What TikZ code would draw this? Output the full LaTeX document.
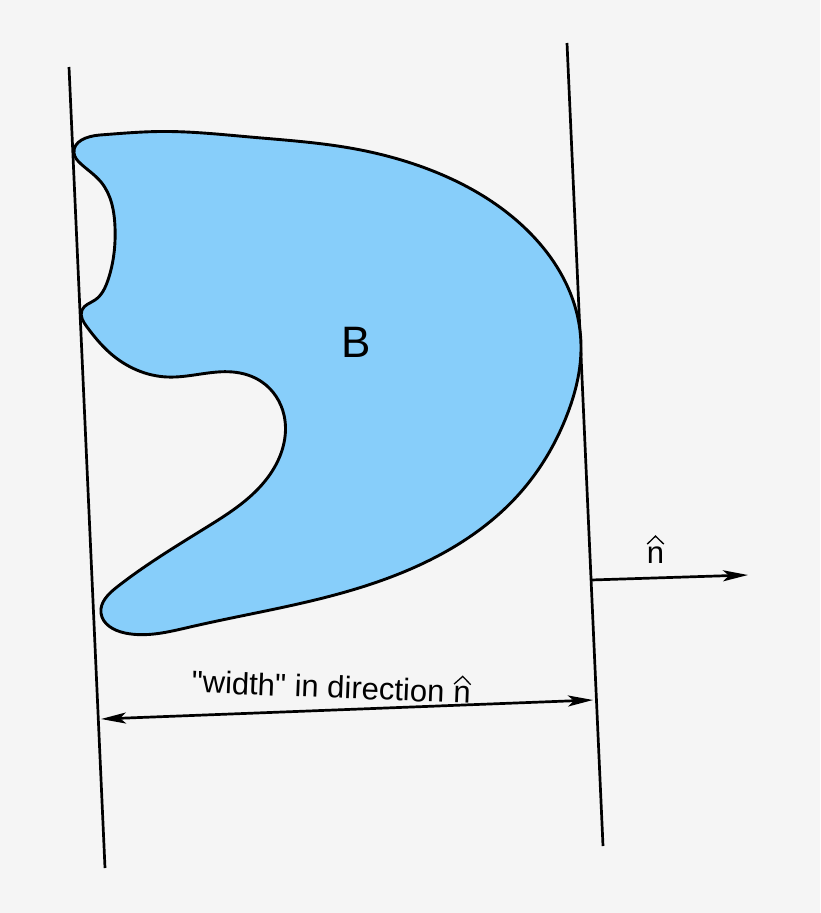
\documentclass[tikz,border=0pt]{standalone}
\usepackage{fontspec}
\setmainfont{Liberation Sans}
\usetikzlibrary{arrows.meta,hobby}
\definecolor{bg}{RGB}{245,245,245}
\definecolor{bodyblue}{RGB}{135,206,250}
\tikzset{
  support/.style={line width=2.7pt},
  outline/.style={line width=2.9pt, fill=bodyblue, draw=black},
  dirarrow/.style={line width=2.7pt, -{Stealth[length=25pt,width=11pt,inset=6pt]}},
  widtharrow/.style={line width=2.7pt, {Stealth[length=25pt,width=11pt,inset=6pt]}-{Stealth[length=25pt,width=11pt,inset=6pt]}},
  lbl/.style={font=\fontsize{31}{36}\selectfont, inner sep=0pt}
}
\newcommand\nhat{\tikz[baseline=(nn.base), x=1pt, y=1pt]{\node[inner sep=0pt, font=\fontsize{31}{36}\selectfont] (nn) {n};
  \draw[line width=1.3pt] ([xshift=0.5pt,yshift=2pt]nn.north west) -- ([yshift=10pt]nn.north) -- ([xshift=-0.5pt,yshift=2pt]nn.north east);}}
\begin{document}
\begin{tikzpicture}[x=1pt,y=-1pt]
\fill[bg] (0,0) rectangle (820,913);
\useasboundingbox (0,0) rectangle (820,913);
% supporting lines
\coordinate (L1) at (69,67);
\coordinate (L2) at (105,868);
\coordinate (R1) at (567,43);
\coordinate (R2) at (603,846);
\draw[support] (L1) -- (L2);
\draw[support] (R1) -- (R2);
% body B
\draw[outline, use Hobby shortcut, closed=true]
 (74,153) .. (100,135) .. (160,131.5) .. (250,137)
 .. (350,148) .. (433,171) .. (527,230) .. (576,310) .. (581,350)
 .. (567,415) .. (520,493) .. (430,560) .. (323,598)
 .. (190,627) .. (125,633) .. (101,613) .. (117,587) .. (207,527)
 .. (257,490) .. (283,447) .. (284,415) .. (262,382) .. (233,372) .. (167,377)
 .. (110,353) .. (87,327) .. (82,310) .. (95,300) .. (108,280)
 .. (115,227) .. (101,182) .. (81,164);
\node[font=\fontsize{44}{50}\selectfont, inner sep=0pt] (B) at (356,342) {B};
% direction arrow
\coordinate (nS) at (591,580);
\coordinate (nE) at (748,575);
\draw[dirarrow] (nS) -- (nE);
\node[lbl, anchor=base] (nlab) at (655.5,563) {\nhat};
% width arrow
\coordinate (wS) at (101,719);
\coordinate (wE) at (593,700);
\draw[widtharrow] (wS) -- (wE);
\node[lbl, anchor=base, rotate=-2.3] (wlab) at (331,698) {\textquotedbl width\textquotedbl{} in direction \nhat};
\end{tikzpicture}
\end{document}
